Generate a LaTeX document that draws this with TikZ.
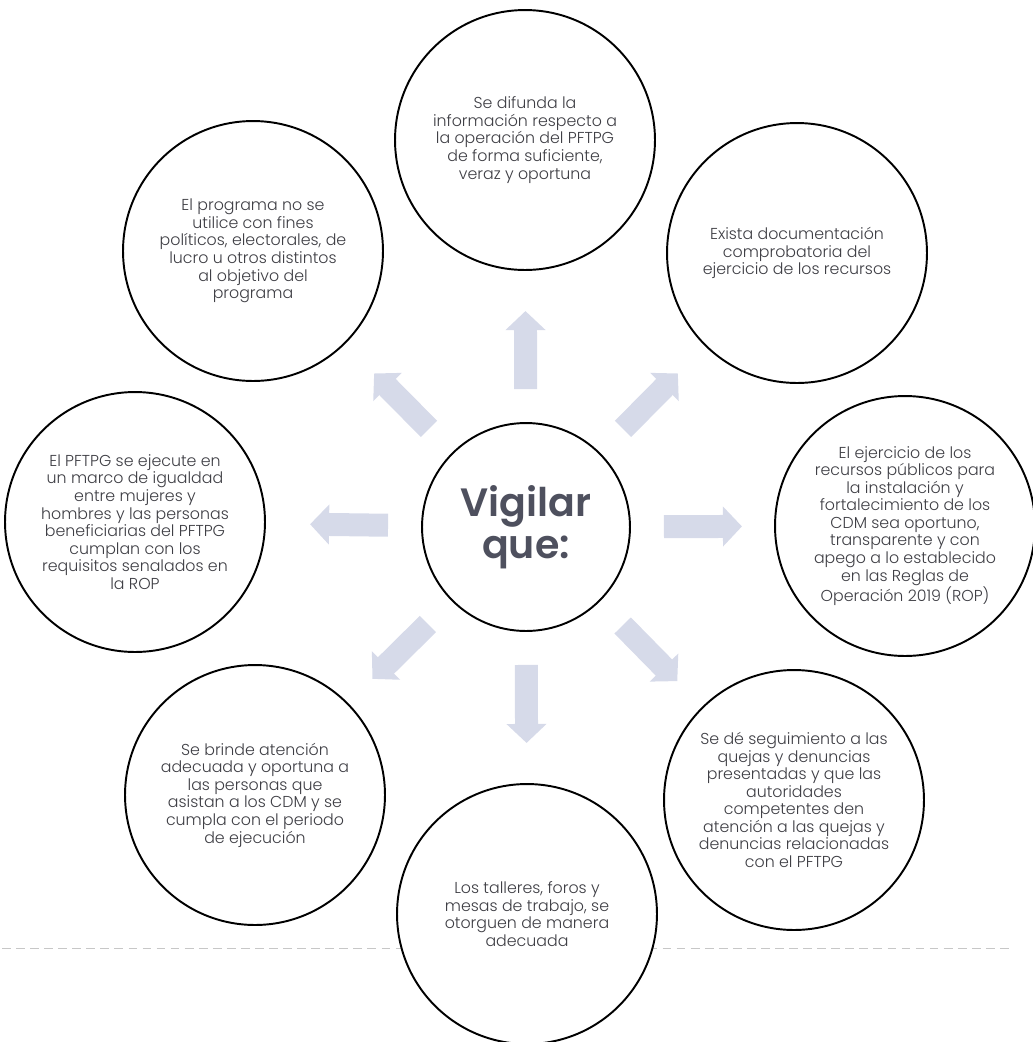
\documentclass[tikz,border=0pt]{standalone}
\usepackage{fontspec}
\usetikzlibrary{calc,arrows.meta}
\IfFontExistsTF{Poppins Light}{\setmainfont{Poppins Light}}{\setmainfont{Poppins}}
\IfFontExistsTF{Poppins SemiBold}{\newfontfamily\ttlfam{Poppins SemiBold}\newcommand\ttlfont{\ttlfam}}{\newfontfamily\ttlfam{Poppins}\newcommand\ttlfont{\ttlfam\bfseries}}
\definecolor{arrowc}{RGB}{214,218,233}
\definecolor{txt}{RGB}{62,62,68}
\definecolor{ttl}{RGB}{78,80,94}
\begin{document}
\begin{tikzpicture}[x=0.02cm,y=-0.02cm,
  bub/.style={circle, draw=black, line width=1.1pt, fill=white, minimum size=5.2cm,
    inner sep=0pt, align=center, text=txt, font=\fontsize{9}{10}\selectfont},
  hub/.style={circle, draw=black, line width=1.1pt, fill=white, minimum size=4.16cm,
    inner sep=0pt, align=center, text=ttl, font=\ttlfont\fontsize{22.5}{24}\selectfont},
  bigarrow/.style={draw=arrowc, line width=0.46cm, -{Triangle[length=0.38cm, width=0.78cm]}},
  scanline/.style={draw=black!22, line width=0.5pt, dash pattern=on 5pt off 3pt}]
\useasboundingbox (0,0) rectangle (1033,1042);
\coordinate (s1) at (2,948);
\coordinate (s2) at (1012,948);
\draw[scanline] (s1) -- (s2);
\node[hub] (C) at (526,527) {Vigilar\\que:};
\node[bub] (T) at (525,140) {Se difunda la\\información respecto a\\la operación del PFTPG\\de forma suficiente,\\veraz y oportuna};
\node[bub] (UL) at (253,251) {El programa no se\\utilice con fines\\políticos, electorales, de\\lucro u otros distintos\\al objetivo del\\programa};
\node[bub] (UR) at (797,253) {Exista documentación\\comprobatoria del\\ejercicio de los recursos};
\node[bub] (R) at (905,526) {El ejercicio de los\\recursos públicos para\\la instalación y\\fortalecimiento de los\\CDM sea oportuno,\\transparente y con\\apego a lo establecido\\en las Reglas de\\Operación 2019 (ROP)};
\node[bub] (L) at (135,522) {El PFTPG se ejecute en\\un marco de igualdad\\entre mujeres y\\hombres y las personas\\beneficiarias del PFTPG\\cumplan con los\\requisitos senalados en\\la ROP};
\node[bub] (LL) at (255,795) {Se brinde atención\\adecuada y oportuna a\\las personas que\\asistan a los CDM y se\\cumpla con el periodo\\de ejecución};
\node[bub] (LR) at (794,800) {Se dé seguimiento a las\\quejas y denuncias\\presentadas y que las\\autoridades\\competentes den\\atención a las quejas y\\denuncias relacionadas\\con el PFTPG};
\node[bub] (B) at (527,914) {Los talleres, foros y\\mesas de trabajo, se\\otorguen de manera\\adecuada};
\foreach \n in {T,UR,R,LR,B,LL,L,UL}
  \draw[bigarrow] ($(C.center)!2.76cm!(\n.center)$) -- ($(C.center)!4.32cm!(\n.center)$);
\end{tikzpicture}
\end{document}
